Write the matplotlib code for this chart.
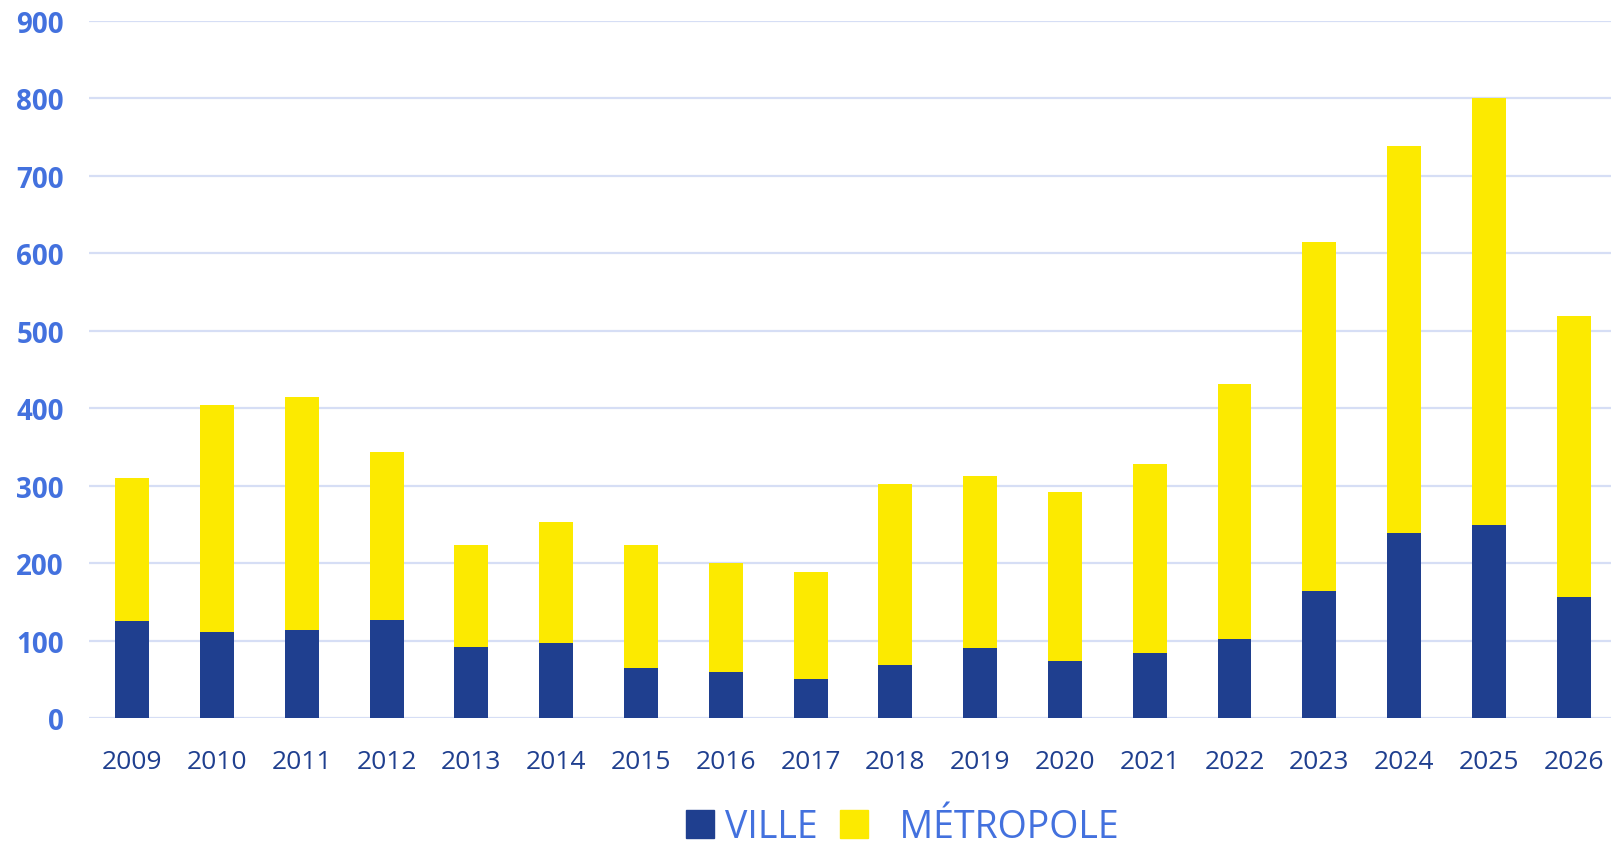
import matplotlib.pyplot as plt
from matplotlib.patches import Rectangle

plt.rcParams['font.family'] = ['Open Sans', 'DejaVu Sans']

years = ["2009", "2010", "2011", "2012", "2013", "2014", "2015", "2016", "2017",
         "2018", "2019", "2020", "2021", "2022", "2023", "2024", "2025", "2026"]
# totals
totals = [310, 404, 414, 343, 224, 253, 224, 200, 189,
          302, 313, 292, 328, 431, 614, 739, 800, 519]
ville = [125, 111, 114, 127, 92, 97, 65, 59, 50,
         69, 90, 73, 84, 102, 164, 239, 249, 156]
metropole = [t - v for t, v in zip(totals, ville)]

navy = "#1F3F8F"
yellow = "#FCEA00"
label_blue = "#4371DE"

fig = plt.figure(figsize=(16.11, 8.45), dpi=100)
ax = fig.add_axes([89 / 1611, 1 - 719 / 845, 1 - 89 / 1611, (719 - 22) / 845])

x = range(len(years))
ax.bar(x, ville, width=0.4, color=navy, zorder=3)
ax.bar(x, metropole, width=0.4, bottom=ville, color=yellow, zorder=3)

ax.set_ylim(0, 900)
ax.set_xlim(-0.51, len(years) - 0.56)
ax.set_yticks(range(0, 901, 100))
ax.set_xticks(list(x))
ax.set_xticklabels(years)

ax.grid(axis="y", color="#D6DEF5", linewidth=1.6, zorder=0)
for s in ax.spines.values():
    s.set_visible(False)
ax.tick_params(axis="both", length=0)
ax.tick_params(axis="y", pad=18, labelsize=20, labelcolor=label_blue)
ax.tick_params(axis="x", pad=22, labelsize=19, labelcolor=navy)
for t in ax.get_yticklabels():
    t.set_fontweight("bold")

handles = [Rectangle((0, 0), 1, 1, color=navy), Rectangle((0, 0), 1, 1, color=yellow)]
leg = fig.legend(handles, ["VILLE", "  MÉTROPOLE"], loc="center",
                 bbox_to_anchor=(902 / 1611, 1 - 828 / 845), ncol=2, frameon=False,
                 fontsize=27, handlelength=0.75, handleheight=0.75,
                 handletextpad=0.3, columnspacing=0.6)
for t in leg.get_texts():
    t.set_color(label_blue)

fig.savefig("out.png", dpi=100)
